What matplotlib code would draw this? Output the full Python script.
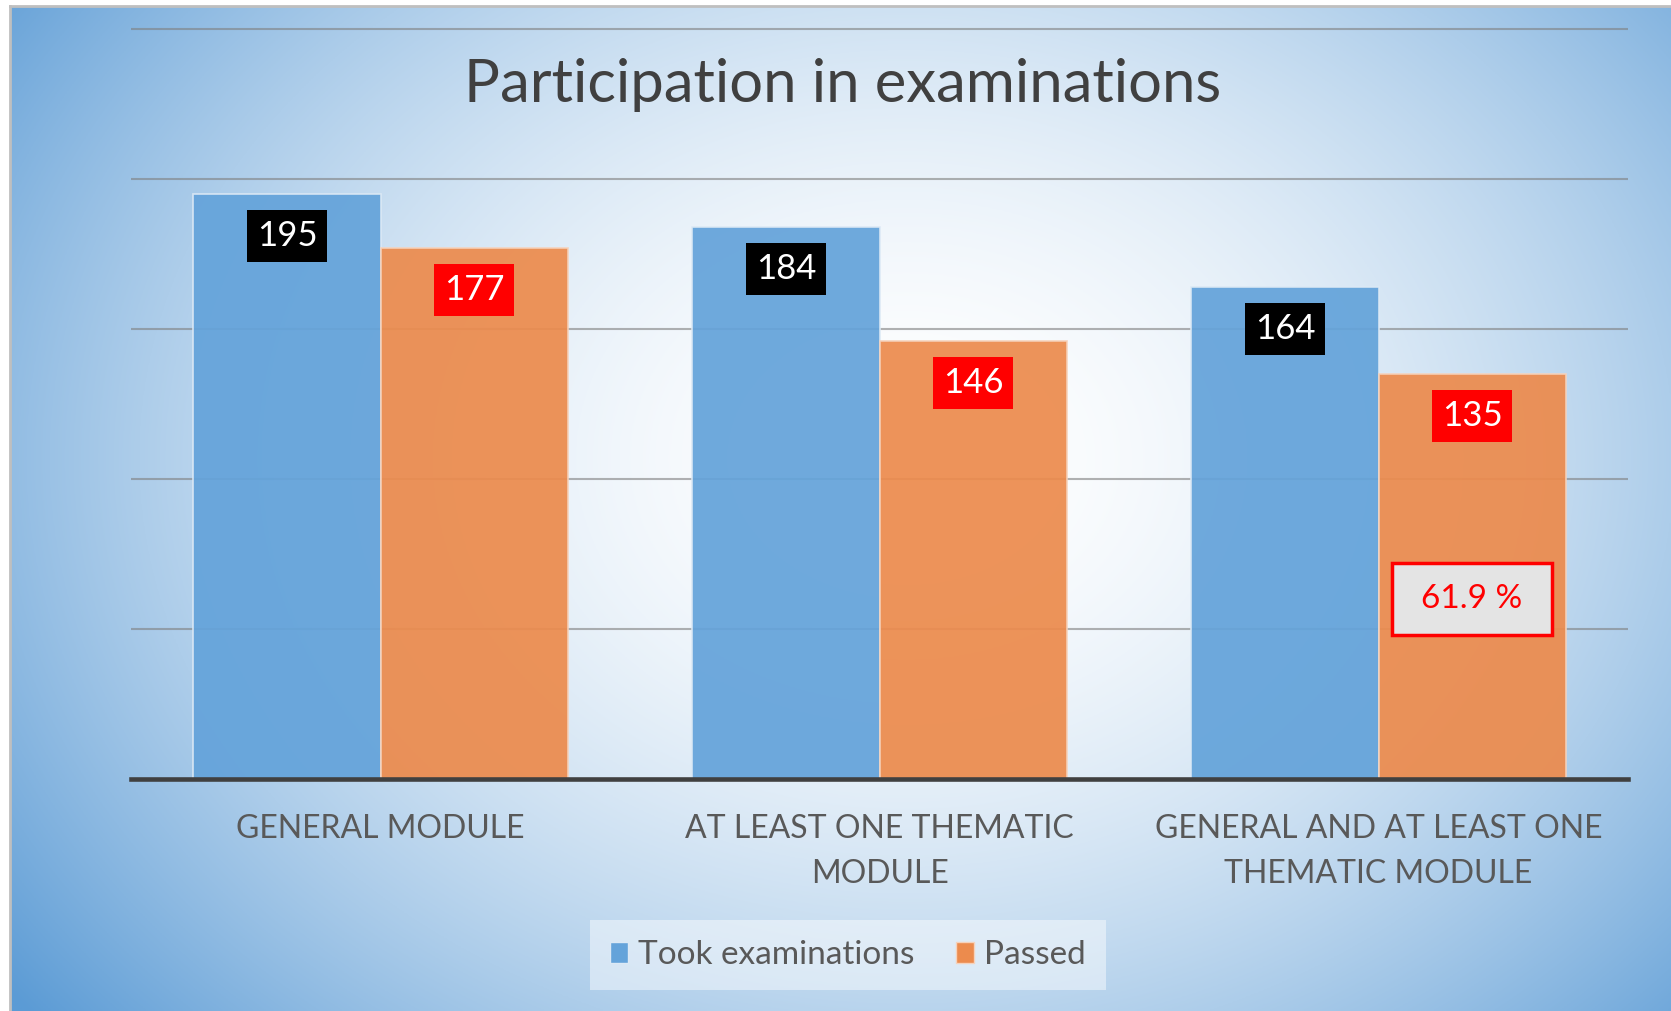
import numpy as np
import matplotlib
matplotlib.use("Agg")
import matplotlib.pyplot as plt
from matplotlib.patches import Patch, Rectangle
from matplotlib.colors import to_rgb

plt.rcParams['font.family'] = ['Lato', 'DejaVu Sans']

categories = ['GENERAL MODULE', 'AT LEAST ONE THEMATIC\nMODULE',
              'GENERAL AND AT LEAST ONE\nTHEMATIC MODULE']
took = [195, 184, 164]
passed = [177, 146, 135]
series = ['Took examinations', 'Passed']
rate_label = '61.9 %'

c_blue = '#64a3da'
c_orange = '#ec8b4d'

fig = plt.figure(figsize=(16.71, 10.11), dpi=100)

# background: radial gradient white -> blue
bg = fig.add_axes([10/1671, 0, 1 - 10/1671, 1 - 6/1011], zorder=-1)
yy, xx = np.mgrid[0:1:400j, 0:1:700j]
r = np.sqrt(((xx - 0.54) / 0.68) ** 2 + ((yy - 0.55) / 0.88) ** 2)
t = np.clip(r, 0, 1) ** 1.8
img = np.ones(3) * (1 - t[..., None]) + np.array(to_rgb('#5b9bd5')) * t[..., None]
bg.imshow(img, aspect='auto', extent=[0, 1, 0, 1], origin='lower')
bg.set_xticks([])
bg.set_yticks([])
for s in ['right', 'bottom']:
    bg.spines[s].set_visible(False)
for s in ['left', 'top']:
    bg.spines[s].set_color('#bfbfbf')
    bg.spines[s].set_linewidth(2)

ax = fig.add_axes([131/1671, 232/1011, 1497/1671, 756/1011])
ax.set_facecolor('none')

x = np.arange(len(categories))
w = 0.375
ax.bar(x - w/2, took, w, color=c_blue, edgecolor='#dce9f5', linewidth=1.2, alpha=0.93, zorder=2)
ax.bar(x + w/2, passed, w, color=c_orange, edgecolor='#f6d2bb', linewidth=1.2, alpha=0.93, zorder=2)

ax.set_xlim(-0.5, 2.5)
ax.set_ylim(0, 252)
ax.set_yticks([50, 100, 150, 200, 250])
ax.yaxis.grid(True, color='#7f7f7f', linewidth=1.5, alpha=0.6)
ax.set_axisbelow(True)
ax.tick_params(left=False, labelleft=False, bottom=False, pad=22)
for s in ['left', 'right', 'top']:
    ax.spines[s].set_visible(False)
ax.spines['bottom'].set_color('#404040')
ax.spines['bottom'].set_linewidth(3.3)
ax.spines['bottom'].set_zorder(3)
ax.set_xticks(x)
ax.set_xticklabels(categories, fontsize=23, color='#595959', linespacing=1.62)

for xi, v in zip(x, took):
    ax.annotate(str(v), (xi - w/2, v), xytext=(0, -42), textcoords='offset pixels',
                ha='center', va='center', color='white', fontsize=25, zorder=4,
                bbox=dict(boxstyle='square,pad=0.28', fc='black', ec='none'))
for xi, v in zip(x, passed):
    ax.annotate(str(v), (xi + w/2, v), xytext=(0, -42), textcoords='offset pixels',
                ha='center', va='center', color='white', fontsize=25, zorder=4,
                bbox=dict(boxstyle='square,pad=0.28', fc='red', ec='none'))

# pass-rate callout on last orange bar
cx = x[-1] + w/2
ax.add_patch(Rectangle((cx - 0.16, 48), 0.32, 24, facecolor='#e4e4e4',
                       edgecolor='red', linewidth=2.5, zorder=4))
ax.text(cx, 60, rate_label, ha='center', va='center', color='red', fontsize=24, zorder=5)

fig.text(843/1671, 1 - 85/1011, 'Participation in examinations', ha='center', va='center',
         fontsize=43, color='#404040')

handles = [Patch(facecolor=c_blue, edgecolor='#dce9f5'), Patch(facecolor=c_orange, edgecolor='#f6d2bb')]
fig.legend(handles, series, loc='center', bbox_to_anchor=(848/1671, 1 - 955/1011),
           ncol=2, fontsize=24, frameon=True, fancybox=False, framealpha=0.45,
           edgecolor='none', facecolor='white', handlelength=0.55, handleheight=0.6,
           handletextpad=0.3, columnspacing=1.25, borderpad=0.6, labelcolor='#595959')

plt.savefig('out.png', dpi=100)
